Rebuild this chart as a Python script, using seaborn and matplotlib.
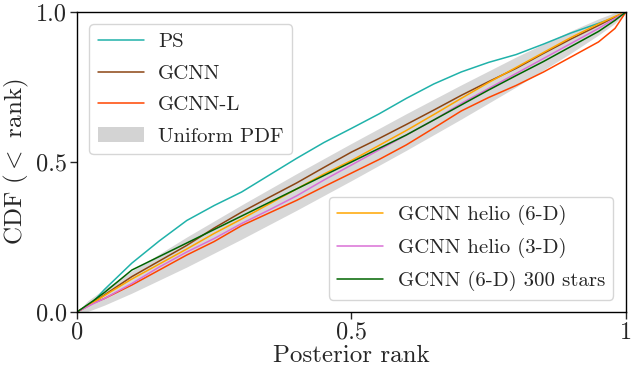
import numpy as np
import pandas as pd
import seaborn as sns
import matplotlib
matplotlib.use("Agg")
import matplotlib.pyplot as plt
from matplotlib.patches import Patch

# Posterior rank grid shared by all calibration curves
rank = [0.0, 0.03, 0.05, 0.1, 0.15, 0.2, 0.25, 0.3, 0.35, 0.4, 0.45, 0.5,
        0.55, 0.6, 0.65, 0.7, 0.75, 0.8, 0.85, 0.9, 0.95, 0.98, 1.0]

cdf_ps = [0.0, 0.035, 0.075, 0.163, 0.237, 0.305, 0.355, 0.40, 0.456, 0.512, 0.565, 0.612,
          0.66, 0.712, 0.76, 0.80, 0.832, 0.858, 0.893, 0.93, 0.962, 0.982, 1.0]
cdf_gcnn = [0.0, 0.033, 0.057, 0.118, 0.17, 0.222, 0.28, 0.333, 0.382, 0.43, 0.482, 0.533,
            0.578, 0.625, 0.673, 0.722, 0.768, 0.812, 0.862, 0.91, 0.955, 0.983, 1.0]
cdf_gcnn_l = [0.0, 0.03, 0.045, 0.09, 0.14, 0.19, 0.235, 0.288, 0.33, 0.372, 0.418, 0.463,
              0.508, 0.557, 0.613, 0.67, 0.715, 0.755, 0.80, 0.85, 0.90, 0.945, 1.0]
cdf_helio6 = [0.0, 0.032, 0.055, 0.11, 0.16, 0.21, 0.262, 0.31, 0.36, 0.41, 0.46, 0.505,
              0.555, 0.605, 0.658, 0.712, 0.765, 0.815, 0.865, 0.915, 0.96, 0.985, 1.0]
cdf_helio3 = [0.0, 0.028, 0.045, 0.095, 0.15, 0.20, 0.245, 0.295, 0.34, 0.387, 0.44, 0.49,
              0.54, 0.59, 0.64, 0.695, 0.745, 0.795, 0.845, 0.895, 0.945, 0.978, 1.0]
cdf_300 = [0.0, 0.038, 0.065, 0.14, 0.185, 0.23, 0.275, 0.32, 0.365, 0.41, 0.455, 0.50,
           0.545, 0.59, 0.64, 0.69, 0.74, 0.788, 0.835, 0.885, 0.935, 0.972, 1.0]

# Spread of the CDF expected for a uniform rank distribution
band_x = [0.0, 0.02, 0.05, 0.1, 0.2, 0.3, 0.4, 0.5, 0.6, 0.7, 0.8, 0.9, 0.95, 0.98, 1.0]
band_hw = [0.0, 0.018, 0.027, 0.037, 0.050, 0.057, 0.061, 0.062, 0.061, 0.057, 0.050,
           0.037, 0.027, 0.018, 0.0]

series = [
    ("PS", cdf_ps, "lightseagreen"),
    ("GCNN", cdf_gcnn, "saddlebrown"),
    ("GCNN-L", cdf_gcnn_l, "orangered"),
    ("GCNN helio (6-D)", cdf_helio6, "orange"),
    ("GCNN helio (3-D)", cdf_helio3, "orchid"),
    ("GCNN (6-D) 300 stars", cdf_300, "darkgreen"),
]

sns.set_style("ticks")
plt.rcParams["font.family"] = ["cmr10", "DejaVu Serif"]
plt.rcParams["mathtext.fontset"] = "cm"
plt.rcParams["axes.formatter.use_mathtext"] = True
plt.rcParams["axes.edgecolor"] = "black"

fig = plt.figure(figsize=(6.31, 3.73), dpi=100)
ax = fig.add_axes([0.122, 0.1635, 0.870, 0.8045])

bx = np.array(band_x)
bh = np.array(band_hw)
ax.fill_between(bx, bx - bh, bx + bh, color="lightgray", alpha=0.9, lw=0, zorder=1)

handles = {}
for name, vals, col in series:
    df = pd.DataFrame({"rank": rank, "cdf": vals})
    sns.lineplot(data=df, x="rank", y="cdf", ax=ax, color=col, lw=1.1,
                 label=name, legend=False, zorder=2)
    handles[name] = ax.lines[-1]

ax.set_xlim(0, 1)
ax.set_ylim(0, 1)
ax.set_xticks([0, 0.5, 1])
ax.set_xticklabels(["0", "0.5", "1"])
ax.set_yticks([0, 0.5, 1])
ax.set_yticklabels(["0.0", "0.5", "1.0"])
ax.tick_params(labelsize=17.5, direction="out", length=5, width=1, pad=2)
ax.set_xlabel("Posterior rank", fontsize=18, labelpad=1)
ax.set_ylabel(r"CDF ($<$ rank)", fontsize=18, labelpad=4)
for sp in ax.spines.values():
    sp.set_visible(True)
    sp.set_linewidth(1.0)

band_handle = Patch(facecolor="lightgray", edgecolor="none", label="Uniform PDF")
leg_kw = dict(fontsize=15, handlelength=2.2, handletextpad=0.7, borderaxespad=0.6,
              labelspacing=0.62, frameon=True)
leg1 = ax.legend([handles["PS"], handles["GCNN"], handles["GCNN-L"], band_handle],
                 ["PS", "GCNN", "GCNN-L", "Uniform PDF"], loc="upper left", **leg_kw)
ax.add_artist(leg1)
ax.legend([handles["GCNN helio (6-D)"], handles["GCNN helio (3-D)"],
           handles["GCNN (6-D) 300 stars"]],
          ["GCNN helio (6-D)", "GCNN helio (3-D)", "GCNN (6-D) 300 stars"],
          loc="lower right", **leg_kw)

fig.savefig("out.png", dpi=100)
